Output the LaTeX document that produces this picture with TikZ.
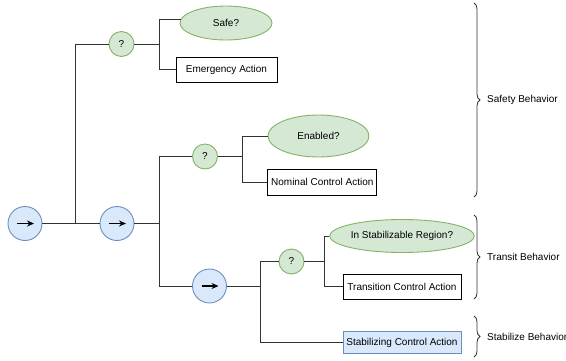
\documentclass[tikz,border=0pt]{standalone}
\usepackage{fontspec}
\setmainfont{Liberation Sans}
\usetikzlibrary{shapes.geometric,arrows.meta,decorations.pathreplacing,calc}
\definecolor{gfill}{HTML}{D5E8D4}
\definecolor{gline}{HTML}{82B366}
\definecolor{bfill}{HTML}{DAE8FC}
\definecolor{bline}{HTML}{6C8EBF}
\definecolor{wire}{HTML}{333333}
\tikzset{
  seqnode/.style={circle,draw=bline,fill=bfill,line width=0.9pt,minimum size=34pt,inner sep=0pt},
  selnode/.style={circle,draw=gline,fill=gfill,line width=0.9pt,minimum size=25pt,inner sep=0pt,font=\fontsize{10pt}{12pt}\selectfont},
  condnode/.style={ellipse,draw=gline,fill=gfill,line width=0.9pt,inner sep=0pt,font=\fontsize{10pt}{12pt}\selectfont},
  actnode/.style={rectangle,draw=black,fill=white,line width=0.9pt,inner sep=0pt,font=\fontsize{10pt}{12pt}\selectfont},
  stabnode/.style={rectangle,draw=bline,fill=bfill,line width=0.9pt,inner sep=0pt,font=\fontsize{10pt}{12pt}\selectfont},
  wireline/.style={draw=wire,line width=0.9pt},
  bracestyle/.style={draw=black!80,line width=0.8pt,decorate,decoration={brace,amplitude=6pt}},
  lbl/.style={anchor=west,inner sep=0pt,font=\fontsize{10pt}{12pt}\selectfont},
  seqarrow/.style={draw=black,line width=1.1pt,-{Stealth[length=7pt,width=6pt]}}
}
\begin{document}
\begin{tikzpicture}[x=1pt,y=-1pt]
\useasboundingbox (0,0) rectangle (566,360);
% nodes
\node[seqnode] (s1) at (25,223.5) {};
\node[seqnode] (s2) at (117,223.5) {};
\node[seqnode] (s3) at (209.5,286) {};
\node[selnode] (q1) at (121.5,44) {?};
\node[selnode] (q2) at (205,156.5) {?};
\node[selnode] (q3) at (291.5,261.5) {?};
\node[condnode,minimum width=92pt,minimum height=34pt] (safe) at (226,23) {Safe?};
\node[actnode,minimum width=101pt,minimum height=25pt] (emerg) at (226.5,69.5) {Emergency Action};
\node[condnode,minimum width=101pt,minimum height=42pt] (enab) at (318.5,136) {Enabled?};
\node[actnode,minimum width=109pt,minimum height=26pt] (nom) at (322.3,182) {Nominal Control Action};
\node[condnode,minimum width=118pt,minimum height=33pt] (region) at (402,236) {In Stabilizable Region?};
\node[actnode,minimum width=118pt,minimum height=25pt] (trans) at (402,286.5) {Transition Control Action};
\node[stabnode,minimum width=118pt,minimum height=22pt] (stab) at (402,342.5) {Stabilizing Control Action};
% arrows inside sequence nodes
\foreach \n in {s1,s2,s3}{
  \draw[seqarrow] ([xshift=-8pt]\n.center) -- ([xshift=9pt]\n.center);
}
% junctions
\coordinate (j1) at (75.5,223.5);
\coordinate (j2) at (159,44);
\coordinate (j3) at (159,223.5);
\coordinate (j4) at (242.7,156.5);
\coordinate (j5) at (260,286);
\coordinate (j6) at (324,261.5);
% connectors
\draw[wireline] (s1.east) -- (s2.west);
\draw[wireline] (q1.west) -| (j1);
\draw[wireline] (q1.east) -- (j2);
\draw[wireline] (safe.175) -| (j2);
\draw[wireline] (emerg.west) -| (j2);
\draw[wireline] (s2.east) -- (j3);
\draw[wireline] (q2.west) -| (j3);
\draw[wireline] (s3.west) -| (j3);
\draw[wireline] (q2.east) -- (j4);
\draw[wireline] (enab.west) -| (j4);
\draw[wireline] (nom.west) -| (j4);
\draw[wireline] (s3.east) -- (j5);
\draw[wireline] (q3.west) -| (j5);
\draw[wireline] (stab.west) -| (j5);
\draw[wireline] (q3.east) -- (j6);
\draw[wireline] (region.west) -| (j6);
\draw[wireline] (trans.west) -| (j6);
% braces
\coordinate (b1a) at (474,3);
\coordinate (b1b) at (474,197);
\coordinate (b2a) at (474,215);
\coordinate (b2b) at (474,299);
\coordinate (b3a) at (474,316);
\coordinate (b3b) at (474,357);
\draw[bracestyle] (b1a) -- (b1b);
\draw[bracestyle] (b2a) -- (b2b);
\draw[bracestyle] (b3a) -- (b3b);
\node[lbl] (l1) at (487,100) {Safety Behavior};
\node[lbl] (l2) at (487,257) {Transit Behavior};
\node[lbl] (l3) at (487,336.5) {Stabilize Behavior};
\end{tikzpicture}
\end{document}
